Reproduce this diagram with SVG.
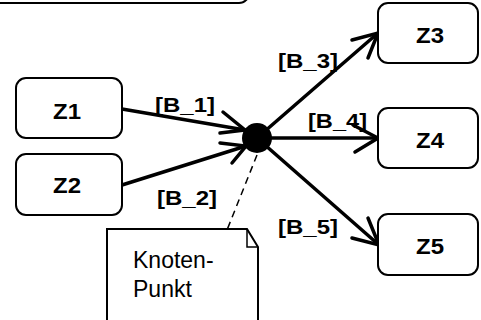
<svg xmlns="http://www.w3.org/2000/svg" width="481" height="320" viewBox="0 0 481 320">
<style>
.box{fill:#fff;stroke:#000;stroke-width:2}
.lbl{font-family:"Liberation Sans",Arial,sans-serif;font-weight:bold;font-size:21px;fill:#000}
.zl{font-family:"Liberation Sans",Arial,sans-serif;font-weight:bold;font-size:22px;fill:#000}
.note{font-family:"Liberation Sans",Arial,sans-serif;font-size:23px;fill:#000}
.edge{stroke:#000;stroke-width:3.5;fill:none;stroke-linecap:round}
</style>
<g id="top">
<rect class="box" x="-12" y="-60" width="261" height="63" rx="10"/>
</g>
<g id="connectors">
<line class="edge" x1="122" y1="109" x2="245" y2="130"/>
<polyline class="edge" points="223,112 245,130 220,133"/>
<line class="edge" x1="122" y1="185" x2="246" y2="146"/>
<polyline class="edge" points="220,143 246,146 232,163"/>
<line class="edge" x1="257" y1="138" x2="378" y2="33"/>
<polyline class="edge" points="352,40 378,33 368,58"/>
<line class="edge" x1="257" y1="138" x2="378" y2="138"/>
<polyline class="edge" points="353,125 378,138 355,152"/>
<line class="edge" x1="257" y1="138" x2="379" y2="245"/>
<polyline class="edge" points="368,218 379,245 352,238"/>
<line x1="257" y1="155" x2="227" y2="230" stroke="#000" stroke-width="1.5" stroke-dasharray="7,5"/>
</g>
<g id="knoten">
<circle cx="257" cy="138" r="15" fill="#000"/>
</g>
<g id="Z1">
<rect class="box" x="16" y="78" width="106" height="60" rx="10"/>
<text class="zl" x="67" y="119" text-anchor="middle" textLength="28" lengthAdjust="spacingAndGlyphs">Z1</text>
</g>
<g id="Z2">
<rect class="box" x="16" y="154" width="106" height="61" rx="10"/>
<text class="zl" x="67" y="193" text-anchor="middle" textLength="28" lengthAdjust="spacingAndGlyphs">Z2</text>
</g>
<g id="Z3">
<rect class="box" x="378" y="3" width="100" height="60" rx="10"/>
<text class="zl" x="430" y="43" text-anchor="middle" textLength="28" lengthAdjust="spacingAndGlyphs">Z3</text>
</g>
<g id="Z4">
<rect class="box" x="378" y="108" width="100" height="60" rx="10"/>
<text class="zl" x="430" y="148" text-anchor="middle" textLength="28" lengthAdjust="spacingAndGlyphs">Z4</text>
</g>
<g id="Z5">
<rect class="box" x="378" y="214" width="100" height="61" rx="10"/>
<text class="zl" x="430" y="254" text-anchor="middle" textLength="28" lengthAdjust="spacingAndGlyphs">Z5</text>
</g>
<g id="labels">
<text class="lbl" x="155" y="112" textLength="60" lengthAdjust="spacingAndGlyphs">[B_1]</text>
<text class="lbl" x="157" y="205" textLength="60" lengthAdjust="spacingAndGlyphs">[B_2]</text>
<text class="lbl" x="278" y="68" textLength="60" lengthAdjust="spacingAndGlyphs">[B_3]</text>
<text class="lbl" x="308" y="128" textLength="59" lengthAdjust="spacingAndGlyphs">[B_4]</text>
<text class="lbl" x="278" y="234" textLength="60" lengthAdjust="spacingAndGlyphs">[B_5]</text>
</g>
<g id="note">
<path d="M107,229 H247 L258,247 V325 H107 Z" fill="#fff" stroke="#000" stroke-width="2"/>
<path d="M247,229 V247 H258" fill="none" stroke="#000" stroke-width="1.5"/>
<text class="note" x="133" y="268">Knoten-</text>
<text class="note" x="133" y="297">Punkt</text>
</g>
</svg>
